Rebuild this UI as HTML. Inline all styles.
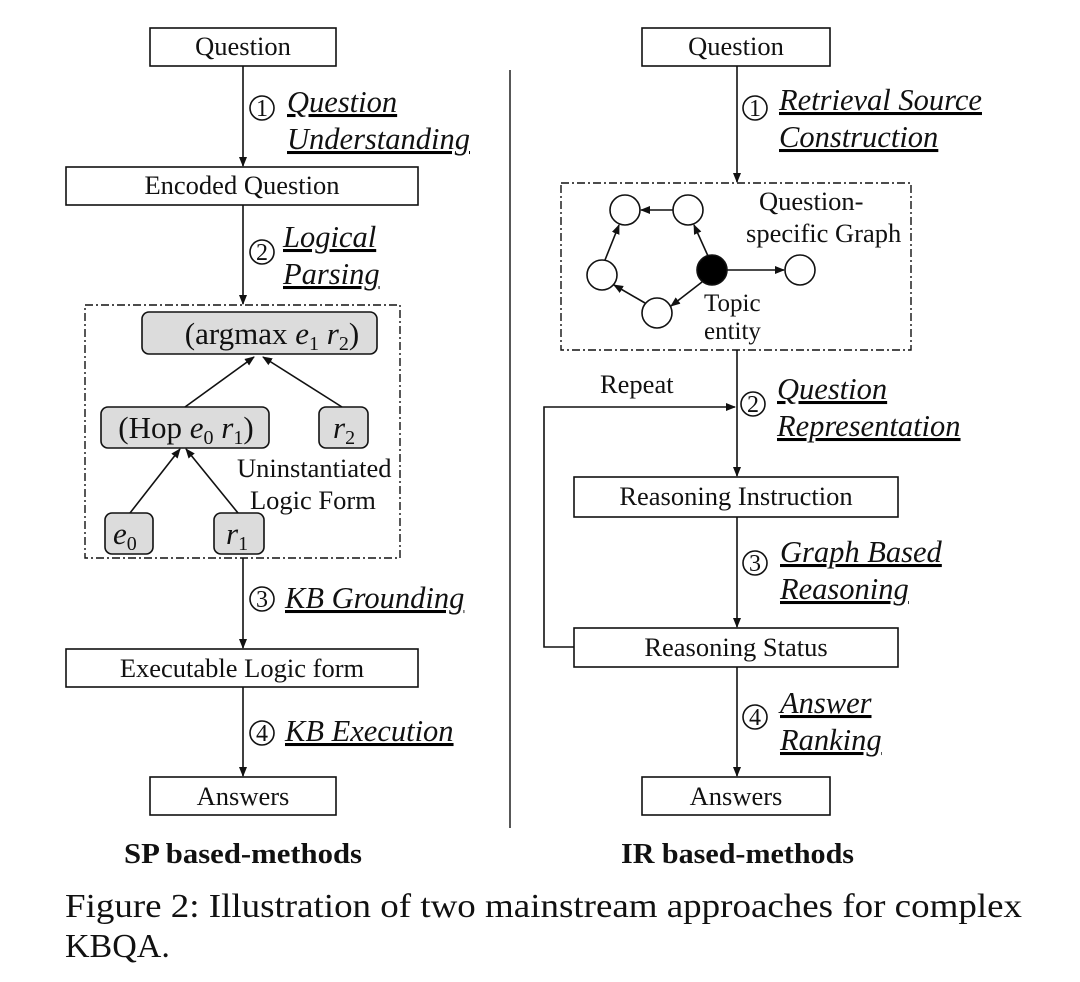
<!DOCTYPE html>
<html><head><meta charset="utf-8"><style>
html,body{margin:0;padding:0;background:#fff;}
svg{display:block}
text{font-family:"Liberation Serif","Times New Roman",serif;fill:#111}
.b{font-size:26.5px}
.l{font-size:30.5px;font-style:italic;text-decoration:underline}
.n{font-size:24px}
</style></head><body>
<svg width="1080" height="982" viewBox="0 0 1080 982" xmlns="http://www.w3.org/2000/svg">
<defs><marker id="a" markerWidth="10" markerHeight="10" refX="9" refY="5" orient="auto" markerUnits="userSpaceOnUse"><path d="M0,1 L10,5 L0,9 z" fill="#111"/></marker></defs>
<g stroke="#111" stroke-width="1.6" fill="none">
<rect x="150" y="28" width="186" height="38" fill="#fff"/>
<rect x="66" y="167" width="352" height="38" fill="#fff"/>
<rect x="66" y="649" width="352" height="38" fill="#fff"/>
<rect x="150" y="777" width="186" height="38" fill="#fff"/>
<line x1="243" y1="66" x2="243" y2="166" marker-end="url(#a)"/>
<line x1="243" y1="205" x2="243" y2="304" marker-end="url(#a)"/>
<line x1="243" y1="558" x2="243" y2="648" marker-end="url(#a)"/>
<line x1="243" y1="687" x2="243" y2="776" marker-end="url(#a)"/>
<rect x="85" y="305" width="315" height="253" stroke-dasharray="8,3,2,3" stroke-width="1.4"/>
<rect x="142" y="312" width="235" height="42" rx="7" fill="#dcdcdc"/>
<rect x="101" y="407" width="168" height="41" rx="7" fill="#dcdcdc"/>
<rect x="319" y="407" width="49" height="41" rx="7" fill="#dcdcdc"/>
<rect x="105" y="513" width="48" height="41" rx="7" fill="#dcdcdc"/>
<rect x="214" y="513" width="50" height="41" rx="7" fill="#dcdcdc"/>
<line x1="185" y1="407" x2="254" y2="357" marker-end="url(#a)"/>
<line x1="342" y1="407" x2="263" y2="357" marker-end="url(#a)"/>
<line x1="130" y1="513" x2="180" y2="449" marker-end="url(#a)"/>
<line x1="238" y1="513" x2="186" y2="449" marker-end="url(#a)"/>
<circle cx="262" cy="108" r="12"/>
<circle cx="262" cy="252" r="12"/>
<circle cx="262" cy="599" r="12"/>
<circle cx="262" cy="733" r="12"/>
<circle cx="755" cy="108" r="12"/>
<circle cx="753" cy="404" r="12"/>
<circle cx="755" cy="563" r="12"/>
<circle cx="755" cy="717" r="12"/>
<line x1="510" y1="70" x2="510" y2="828" stroke-width="1.4"/>
<rect x="642" y="28" width="188" height="38" fill="#fff"/>
<rect x="574" y="477" width="324" height="40" fill="#fff"/>
<rect x="574" y="628" width="324" height="39" fill="#fff"/>
<rect x="642" y="777" width="188" height="38" fill="#fff"/>
<line x1="737" y1="66" x2="737" y2="182" marker-end="url(#a)"/>
<rect x="561" y="183" width="350" height="167" stroke-dasharray="8,3,2,3" stroke-width="1.4"/>
<line x1="737" y1="350" x2="737" y2="476" marker-end="url(#a)"/>
<line x1="737" y1="517" x2="737" y2="627" marker-end="url(#a)"/>
<line x1="737" y1="667" x2="737" y2="776" marker-end="url(#a)"/>
<polyline points="574,647 544,647 544,407 735,407" marker-end="url(#a)"/>
<circle cx="625" cy="210" r="15" fill="#fff"/>
<circle cx="688" cy="210" r="15" fill="#fff"/>
<circle cx="602" cy="275" r="15" fill="#fff"/>
<circle cx="657" cy="313" r="15" fill="#fff"/>
<circle cx="712" cy="270" r="15" fill="#000"/>
<circle cx="800" cy="270" r="15" fill="#fff"/>
<line x1="673" y1="210" x2="641" y2="210" marker-end="url(#a)"/>
<line x1="708" y1="256" x2="694" y2="225" marker-end="url(#a)"/>
<line x1="727" y1="270" x2="784" y2="270" marker-end="url(#a)"/>
<line x1="702" y1="282" x2="671" y2="306" marker-end="url(#a)"/>
<line x1="645" y1="303" x2="614" y2="285" marker-end="url(#a)"/>
<line x1="605" y1="260" x2="619" y2="225" marker-end="url(#a)"/>
</g>
<g class="b">
<text x="243" y="55" text-anchor="middle">Question</text>
<text x="242" y="194" text-anchor="middle">Encoded Question</text>
<text x="242" y="677" text-anchor="middle">Executable Logic form</text>
<text x="243" y="805" text-anchor="middle">Answers</text>
<text x="736" y="55" text-anchor="middle">Question</text>
<text x="736" y="505" text-anchor="middle">Reasoning Instruction</text>
<text x="736" y="656" text-anchor="middle">Reasoning Status</text>
<text x="736" y="805" text-anchor="middle">Answers</text>
<text x="600" y="393">Repeat</text>
<text x="237" y="477">Uninstantiated</text>
<text x="250" y="509">Logic Form</text>
<text x="759" y="210">Question-</text>
<text x="746" y="242">specific Graph</text>
<text x="704" y="311" style="font-size:25px">Topic</text>
<text x="704" y="339" style="font-size:25px">entity</text>
</g>
<g style="font-size:31px">
<text x="272" y="344" text-anchor="middle">(argmax <tspan font-style="italic">e</tspan><tspan font-size="20" dy="6">1</tspan><tspan dy="-6"> </tspan><tspan font-style="italic">r</tspan><tspan font-size="20" dy="6">2</tspan><tspan dy="-6">)</tspan></text>
<text x="186" y="438" text-anchor="middle">(Hop <tspan font-style="italic">e</tspan><tspan font-size="20" dy="6">0</tspan><tspan dy="-6"> </tspan><tspan font-style="italic">r</tspan><tspan font-size="20" dy="6">1</tspan><tspan dy="-6">)</tspan></text>
<text x="333" y="438"><tspan font-style="italic">r</tspan><tspan font-size="20" dy="6">2</tspan></text>
<text x="113" y="544"><tspan font-style="italic">e</tspan><tspan font-size="20" dy="6">0</tspan></text>
<text x="226" y="544"><tspan font-style="italic">r</tspan><tspan font-size="20" dy="6">1</tspan></text>
</g>
<g class="n" text-anchor="middle">
<text x="262" y="116">1</text><text x="262" y="260">2</text><text x="262" y="607">3</text><text x="262" y="741">4</text>
<text x="755" y="116">1</text><text x="753" y="412">2</text><text x="755" y="571">3</text><text x="755" y="725">4</text>
</g>
<g class="l">
<text x="287" y="112">Question</text>
<text x="287" y="149">Understanding</text>
<text x="283" y="247">Logical</text>
<text x="283" y="284">Parsing</text>
<text x="285" y="608">KB Grounding</text>
<text x="285" y="741">KB Execution</text>
<text x="779" y="110">Retrieval Source</text>
<text x="779" y="147">Construction</text>
<text x="777" y="399">Question</text>
<text x="777" y="436">Representation</text>
<text x="780" y="562">Graph Based</text>
<text x="780" y="599">Reasoning</text>
<text x="780" y="713">Answer</text>
<text x="780" y="750">Ranking</text>
</g>
<g style="font-size:28px;font-weight:bold">
<text x="124" y="863" textLength="238" lengthAdjust="spacingAndGlyphs">SP based-methods</text>
<text x="621" y="863" textLength="233" lengthAdjust="spacingAndGlyphs">IR based-methods</text>
</g>
<g style="font-size:34px">
<text x="65" y="917" textLength="957" lengthAdjust="spacingAndGlyphs">Figure 2:  Illustration of two mainstream approaches for complex</text>
<text x="65" y="957">KBQA.</text>
</g>
</svg>
</body></html>
